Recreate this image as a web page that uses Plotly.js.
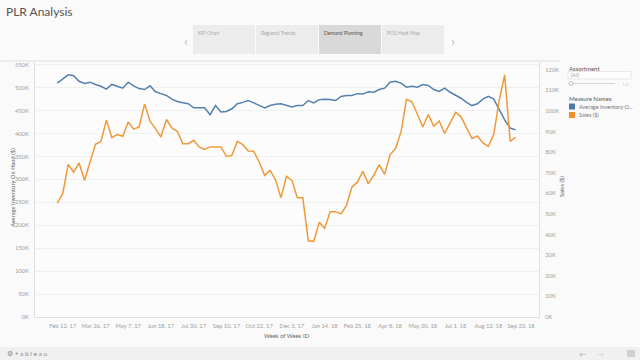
<!DOCTYPE html>
<html><head><meta charset="utf-8">
<script src="https://cdn.plot.ly/plotly-3.0.1.min.js"></script>
<style>html,body{margin:0;padding:0;background:#fafafa;}#chart{width:640px;height:360px;}</style>
</head><body><div id="chart"></div>
<script>
const weeks = [
"2017-02-05","2017-02-12","2017-02-19","2017-02-26","2017-03-05","2017-03-12","2017-03-19","2017-03-26",
"2017-04-02","2017-04-09","2017-04-16","2017-04-23","2017-04-30","2017-05-07","2017-05-14","2017-05-21","2017-05-28",
"2017-06-04","2017-06-11","2017-06-18","2017-06-25","2017-07-02","2017-07-09","2017-07-16","2017-07-23","2017-07-30",
"2017-08-06","2017-08-13","2017-08-20","2017-08-27","2017-09-03","2017-09-10","2017-09-17","2017-09-24",
"2017-10-01","2017-10-08","2017-10-15","2017-10-22","2017-10-29","2017-11-05","2017-11-12","2017-11-19","2017-11-26",
"2017-12-03","2017-12-10","2017-12-17","2017-12-24","2017-12-31",
"2018-01-07","2018-01-14","2018-01-21","2018-01-28","2018-02-04","2018-02-11","2018-02-18","2018-02-25",
"2018-03-04","2018-03-11","2018-03-18","2018-03-25","2018-04-01","2018-04-08","2018-04-15","2018-04-22","2018-04-29",
"2018-05-06","2018-05-13","2018-05-20","2018-05-27","2018-06-03","2018-06-10","2018-06-17","2018-06-24",
"2018-07-01","2018-07-08","2018-07-15","2018-07-22","2018-07-29","2018-08-05","2018-08-12","2018-08-19","2018-08-26",
"2018-09-02","2018-09-09","2018-09-16"];

// Average Inventory On Hand ($), in thousands
const avgInventoryK = [
510,519,528,526,514,509,512,507,503,497,507,503,499,512,504,498,496,504,491,487,483,475,470,467,465,456,
456,456,441,461,447,448,454,465,468,472,467,461,456,461,464,465,461,458,461,461,472,467,474,475,474,472,
481,483,483,487,486,491,490,496,499,512,514,510,501,503,501,507,505,496,492,499,490,483,477,468,461,465,
475,481,475,452,430,412,408];

// Sales ($), in thousands
const salesK = [
55.2,59.8,74.0,70.3,74.7,66.2,75.2,83.8,85.2,95.5,87.0,88.5,87.7,94.6,91.1,92.2,103.3,95.0,91.4,87.3,95.8,
91.7,90.1,84.1,84.1,85.7,82.5,81.3,82.5,82.5,82.5,77.9,78.4,85.2,83.6,80.5,80.4,75.2,68.7,71.1,66.6,57.8,
68.3,66.2,57.8,57.8,37.0,36.7,45.9,43.0,51.1,51.1,50.0,54.1,63.0,65.4,70.7,64.7,68.7,73.9,69.2,78.8,81.7,
89.8,105.6,104.4,98.4,92.2,98.2,92.5,95.1,89.0,94.2,99.2,97.1,92.2,86.6,87.8,84.4,82.8,88.6,105.2,117.4,
85.2,87.3];

const xTickVals = ["2017-02-12","2017-03-26","2017-05-07","2017-06-18","2017-07-30","2017-09-10","2017-10-22",
"2017-12-03","2018-01-14","2018-02-25","2018-04-08","2018-05-20","2018-07-01","2018-08-12","2018-09-23"];
const xTickText = ["Feb 12, 17","Mar 26, 17","May 7, 17","Jun 18, 17","Jul 30, 17","Sep 10, 17","Oct 22, 17",
"Dec 3, 17","Jan 14, 18","Feb 25, 18","Apr 8, 18","May 20, 18","Jul 1, 18","Aug 12, 18","Sep 23, 18"];
const leftTickVals = [0,50,100,150,200,250,300,350,400,450,500,550];
const leftTickText = ["0K","50K","100K","150K","200K","250K","300K","350K","400K","450K","500K","550K"];
const rightTickVals = [0,10,20,30,40,50,60,70,80,90,100,110,120];
const rightTickText = ["0K","10K","20K","30K","40K","50K","60K","70K","80K","90K","100K","110K","120K"];
const tabs = ["KPI Chart","Regional Trends","Demand Planning","POS Heat Map"];
const seriesNames = ["Average Inventory O...","Sales ($)"];

const W=640,H=360;
const px = x => x/W, py = y => 1 - y/H;
const FONT = "Lato, 'Open Sans', sans-serif";
const tickFont = {family: FONT, size: 5.8, color: "#a0a0a0"};
const colors = ["#4e79a7","#f28e2b"];

const traces = [
  {x: weeks, y: avgInventoryK, type: "scatter", mode: "lines", name: "Average Inventory On Hand ($)",
   line: {color: "#5580ad", width: 1.5}, yaxis: "y", hoverinfo: "skip"},
  {x: weeks, y: salesK, type: "scatter", mode: "lines", name: "Sales ($)",
   line: {color: "#f0993a", width: 1.5}, yaxis: "y2", hoverinfo: "skip"}
];

const shapes = [];
const annotations = [];
function label(x, y, text, size, color, xanchor, extra) {
  annotations.push(Object.assign({x: px(x), y: py(y), xref: "paper", yref: "paper",
    xanchor: xanchor || "left", yanchor: "middle", text: text, showarrow: false,
    font: {family: FONT, size: size, color: color}}, extra || {}));
}

// header
label(4, 12, "PLR Analysis", 12, "#555");
// tabs
const tabX0 = 193, tabW = 63;
tabs.forEach((t, i) => {
  const x0 = tabX0 + i*tabW;
  shapes.push({type: "rect", xref: "paper", yref: "paper", x0: px(x0), x1: px(x0+tabW-1), y0: py(25), y1: py(54),
    fillcolor: i === 2 ? "#d9d9d9" : "#ececec", line: {width: 0}, layer: "below"});
  label(x0+3, 33, t, 5, i === 2 ? "#555" : "#aaa");
});
label(186, 40, "‹", 14, "#bbb", "center");
label(453, 40, "›", 14, "#bbb", "center");

// top border of chart area
shapes.push({type: "line", xref: "paper", yref: "paper", x0: 0, x1: px(560), y0: py(61), y1: py(61),
  line: {color: "#ececec", width: 2}});

// axis titles
label(12, 188, "Average Inventory On Hand ($)", 5.8, "#666", "center", {textangle: -90});
label(561, 187, "Sales ($)", 5.8, "#666", "center", {textangle: -90});
label(287, 335.5, "Week of Week ID", 5.8, "#666", "center");

// right panel: filter + legend
label(567, 68, "Assortment", 6, "#555");
shapes.push({type: "rect", xref: "paper", yref: "paper", x0: px(568), x1: px(631), y0: py(71.5), y1: py(79),
  fillcolor: "#fdfdfd", line: {color: "#ddd", width: 0.6}});
label(569, 75.3, "(All)", 5, "#aaa");
shapes.push({type: "line", xref: "paper", yref: "paper", x0: px(571), x1: px(615), y0: py(83.5), y1: py(83.5),
  line: {color: "#ccc", width: 0.8}});
shapes.push({type: "circle", xref: "paper", yref: "paper", x0: px(569), x1: px(573), y0: py(85.5), y1: py(81.5),
  fillcolor: "#fff", line: {color: "#999", width: 0.6}});
label(625, 83.5, "‹ ›", 6, "#888", "center");
label(567, 98.5, "Measure Names", 6, "#555");
seriesNames.forEach((n, i) => {
  const yc = 106.5 + i*8.5;
  shapes.push({type: "rect", xref: "paper", yref: "paper", x0: px(569), x1: px(575), y0: py(yc+3), y1: py(yc-3),
    fillcolor: colors[i], line: {width: 0}});
  label(577, yc, n, 5.5, "#777");
});

// footer
shapes.push({type: "rect", xref: "paper", yref: "paper", x0: 0, x1: 1, y0: 0, y1: py(347),
  fillcolor: "#f0f0f0", line: {width: 0}, layer: "below"});
label(5, 353.5, "⚙ + a b l e a u", 6.5, "#888");
label(582, 353.5, "←", 7, "#aaa", "center");
label(600, 353.5, "→", 7, "#ccc", "center");
shapes.push({type: "rect", xref: "paper", yref: "paper", x0: px(627), x1: px(635), y0: py(357), y1: py(350),
  fillcolor: "#d0d0d0", line: {width: 0}});

const layout = {
  width: W, height: H,
  margin: {l: 0, r: 0, t: 0, b: 0},
  paper_bgcolor: "#fafafa", plot_bgcolor: "#fcfcfc",
  showlegend: false,
  font: {family: FONT},
  xaxis: {type: "date", domain: [px(35), px(539)], range: ["2017-01-07 10:00", "2018-10-16"],
    tickvals: xTickVals, ticktext: xTickText, tickfont: tickFont, tickangle: 0, showgrid: false,
    showline: true, linecolor: "#e0e0e0", linewidth: 1, ticks: "", zeroline: false, ticklabelstandoff: 3},
  yaxis: {domain: [py(317), py(62)], range: [0, 556], tickvals: leftTickVals, ticktext: leftTickText,
    tickfont: tickFont, showgrid: true, gridcolor: "#f0f0f0", gridwidth: 1, zeroline: false,
    showline: true, linecolor: "#e0e0e0", linewidth: 1, ticks: "", ticklabelstandoff: 4},
  yaxis2: {overlaying: "y", side: "right", anchor: "x", range: [0, 123.7], tickvals: rightTickVals,
    ticktext: rightTickText, tickfont: tickFont, showgrid: false, zeroline: false,
    showline: true, linecolor: "#e0e0e0", linewidth: 1, ticks: "", ticklabelstandoff: 4},
  shapes: shapes,
  annotations: annotations
};

Plotly.newPlot("chart", traces, layout, {displayModeBar: false, staticPlot: true});
</script>
</body></html>
